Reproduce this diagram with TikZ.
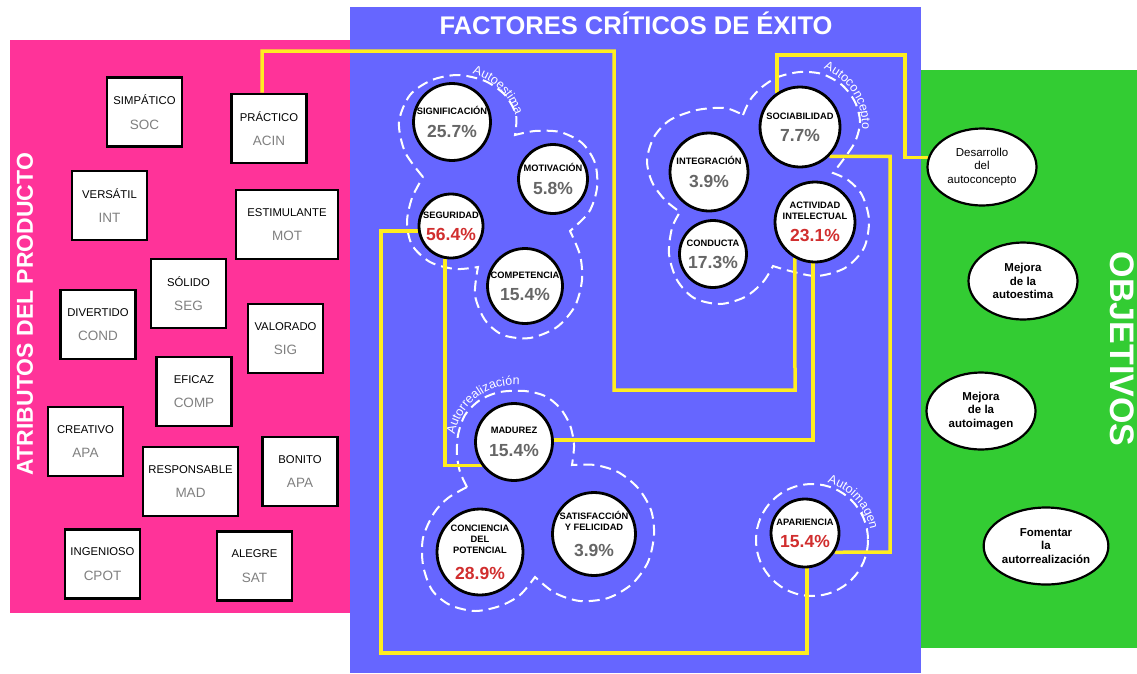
\documentclass[tikz,border=0pt]{standalone}
\usepackage{fontspec}
\setmainfont{Liberation Sans}
\usetikzlibrary{shapes.geometric,decorations.text}
\definecolor{ffttzz}{rgb}{1,0.2,0.6}
\definecolor{wwwwff}{rgb}{0.4,0.4,1}
\definecolor{ttcctt}{rgb}{0.2,0.8,0.2}
\definecolor{ffee22}{rgb}{1,0.93,0.13}
\definecolor{rojo}{rgb}{0.82,0.18,0.18}
\definecolor{grisfct}{rgb}{0.4,0.4,0.4}
\definecolor{grisattr}{rgb}{0.5,0.5,0.5}
\pgfdeclarelayer{panel}
\pgfdeclarelayer{cloud}
\pgfdeclarelayer{wire}
\pgfsetlayers{panel,cloud,wire,main}
\newcommand{\attrtxt}[2]{#1\\[12pt]{\fontsize{13.5}{13.5}\selectfont\color{grisattr}#2}}
\newcommand{\fcttxt}[3][grisfct]{#2\\[9pt]{\fontsize{17.5}{17.5}\selectfont\color{#1}#3}}
\newcommand{\cloudfont}{\fontsize{12.5}{12.5}\selectfont}

\begin{document}
\begin{tikzpicture}[x=1pt,y=-1pt,
  attr/.style={draw=black,line width=2.8pt,fill=white,minimum width=75pt,minimum height=69pt,align=center,inner sep=1pt,font=\fontsize{11.3}{12.5}\selectfont},
  factor/.style={circle,draw=black,line width=2.8pt,fill=white,minimum size=#1,align=center,inner sep=0pt,font=\fontsize{9.3}{11}\selectfont\bfseries},
  goal/.style={ellipse,draw=black,line width=2.2pt,fill=white,minimum width=109pt,minimum height=77pt,align=center,inner sep=0pt,font=\fontsize{11.5}{13.3}\selectfont},
  goalb/.style={goal,font=\fontsize{11.5}{13.3}\selectfont\bfseries},
  cloud/.style={white,line width=2pt,dash pattern=on 11pt off 6pt},
  cloudtext/.style={x=1pt,y=1pt,decorate,decoration={text along path,text color=white,text align=center,text={|\cloudfont|#1}}},
  wire/.style={ffee22,line width=3.5pt}]
\useasboundingbox (0,0) rectangle (1137,673);
\begin{pgfonlayer}{panel}
\fill[white] (0,0) rectangle (1137,673);
\fill[ffttzz] (10,40) rectangle (350,613);
\fill[wwwwff] (350,7) rectangle (921,673);
\fill[ttcctt] (921,70) rectangle (1137,648);
\end{pgfonlayer}

\node[white,font=\fontsize{25.5}{26}\selectfont\bfseries] (factores) at (636,23) {FACTORES CRÍTICOS DE ÉXITO};
\node[white,rotate=90,font=\fontsize{23}{23}\selectfont\bfseries] (atributos) at (25,314) {ATRIBUTOS DEL PRODUCTO};
\node[white,rotate=-90,font=\fontsize{34}{34}\selectfont\bfseries] (objetivos) at (1122,349) {OBJETIVOS};

\node[attr] (simpatico) at (144.5,112) {\attrtxt{SIMPÁTICO}{SOC}};
\node[attr] (practico) at (269,128.5) {\attrtxt{PRÁCTICO}{ACIN}};
\node[attr] (versatil) at (109.5,205.5) {\attrtxt{VERSÁTIL}{INT}};
\node[attr,minimum width=102pt] (estimulante) at (287,224.5) {\attrtxt{ESTIMULANTE}{MOT}};
\node[attr] (solido) at (188.5,293.5) {\attrtxt{SÓLIDO}{SEG}};
\node[attr] (divertido) at (98,324.5) {\attrtxt{DIVERTIDO}{COND}};
\node[attr] (valorado) at (285.5,338.5) {\attrtxt{VALORADO}{SIG}};
\node[attr] (eficaz) at (194,391.5) {\attrtxt{EFICAZ}{COMP}};
\node[attr] (creativo) at (85.5,441.5) {\attrtxt{CREATIVO}{APA}};
\node[attr,minimum width=95pt] (responsable) at (190.5,481.5) {\attrtxt{RESPONSABLE}{MAD}};
\node[attr] (bonito) at (300,471.5) {\attrtxt{BONITO}{APA}};
\node[attr] (ingenioso) at (102.5,564) {\attrtxt{INGENIOSO}{CPOT}};
\node[attr] (alegre) at (254.5,566) {\attrtxt{ALEGRE}{SAT}};

\node[factor=77pt] (signif) at (452,122) {\fcttxt{SIGNIFICACIÓN}{25.7\%}};
\node[factor=69pt] (motiv) at (553,179) {\fcttxt{MOTIVACIÓN}{5.8\%}};
\node[factor=64pt] (segur) at (451,226) {\fcttxt[rojo]{SEGURIDAD}{56.4\%}};
\node[factor=75pt] (compet) at (525,286) {\fcttxt{COMPETENCIA}{15.4\%}};
\node[factor=80pt] (sociab) at (800,127) {\fcttxt{SOCIABILIDAD}{7.7\%}};
\node[factor=78pt] (integr) at (709,172) {\fcttxt{INTEGRACIÓN}{3.9\%}};
\node[factor=80pt] (activ) at (815,222) {\fcttxt[rojo]{ACTIVIDAD\\INTELECTUAL}{23.1\%}};
\node[factor=67pt] (conduc) at (713,254) {\fcttxt{CONDUCTA}{17.3\%}};
\node[factor=77pt] (madurez) at (514,442) {\fcttxt{MADUREZ}{15.4\%}};
\node[factor=86pt] (concien) at (480,552) {CONCIENCIA\\DEL\\POTENCIAL\\[13pt]{\fontsize{17.5}{17.5}\selectfont\color{rojo}28.9\%}};
\node[factor=83pt] (satisf) at (594,534) {SATISFACCIÓN\\Y FELICIDAD\\[12pt]{\fontsize{17.5}{17.5}\selectfont\color{grisfct}3.9\%}};
\node[factor=68pt] (aparien) at (805,533) {\fcttxt[rojo]{APARIENCIA}{15.4\%}};

\node[goal] (desarrollo) at (982,167) {Desarrollo\\del\\autoconcepto};
\node[goalb] (autoestima) at (1023,281) {Mejora\\de la\\autoestima};
\node[goalb] (autoimagen) at (981,411) {Mejora\\de la\\autoimagen};
\node[goalb] (autorreal) at (1046,546) {Fomentar\\la\\autorrealización};

\begin{pgfonlayer}{cloud}
\draw[cloud] plot[smooth] coordinates {(423,177) (405,152) (399,122) (410,95) (432,80) (458,75) (485,81) (505,95) (516,115) (515,135)}
  -- plot[smooth] coordinates {(515,135) (535,131) (560,132) (582,143) (595,163) (597,188) (589,212) (570,231)}
  -- plot[smooth] coordinates {(570,231) (580,255) (582,280) (575,306) (557,327) (530,338) (503,335) (485,320) (475,295) (478,267)}
  -- plot[smooth] coordinates {(478,267) (455,269) (430,262) (412,245) (407,222) (412,198) (423,177)} -- cycle;
\draw[cloud] plot[smooth] coordinates {(743,115) (750,100) (762,87) (778,77) (800,72) (822,74) (842,85) (855,102) (860,122) (855,142) (843,160) (833,173)}
  -- plot[smooth] coordinates {(833,173) (848,180) (862,195) (869,220) (864,248) (845,268) (817,276) (790,271) (773,266)}
  -- plot[smooth] coordinates {(773,266) (763,282) (745,297) (720,304) (694,298) (677,280) (669,254) (672,228) (680,212)}
  -- plot[smooth] coordinates {(680,212) (665,200) (652,182) (647,160) (654,137) (670,120) (697,110) (725,108) (743,115)} -- cycle;
\draw[cloud] plot[smooth] coordinates {(467,487) (460,472) (457,455) (458,435) (465,415) (480,400) (500,392) (525,391) (545,396) (560,408) (570,425) (574,445) (572,465)}
  -- plot[smooth] coordinates {(572,465) (595,465) (618,472) (638,488) (651,510) (654,535) (648,562) (632,584) (608,598) (580,601) (555,593) (535,577)}
  -- plot[smooth] coordinates {(535,577) (520,595) (500,606) (475,611) (450,605) (432,590) (423,565) (423,538) (434,513) (448,498) (467,487)} -- cycle;
\draw[cloud] (812,540) circle (56);
\begin{scope}[transform canvas={shift={(457,133)}}]
\path[cloudtext=Autoestima] (92:61) arc[start angle=92,end angle=0,radius=61];
\end{scope}
\begin{scope}[transform canvas={shift={(802,125)}}]
\path[cloudtext=Autoconcepto] (85:60) arc[start angle=85,end angle=-20,radius=60];
\end{scope}
\begin{scope}[transform canvas={shift={(514,445)}}]
\path[cloudtext=Autorrealización] (185:60) arc[start angle=185,end angle=70,radius=60];
\end{scope}
\begin{scope}[transform canvas={shift={(812,540)}}]
\path[cloudtext=Autoimagen] (88:59) arc[start angle=88,end angle=-3,radius=59];
\end{scope}
\end{pgfonlayer}

\begin{pgfonlayer}{wire}
\draw[wire] ([xshift=-7pt]practico.north) |- (614,51) |- (795,390) -- (activ.-119);
\draw[wire] (sociab.124) |- (905,55) |- (desarrollo.170);
\draw[wire] (sociab.-45) -| (890,552) -- (aparien.-33);
\draw[wire] (activ.-93) |- (madurez.3);
\draw[wire] (segur.189) -| (381,653) -| (aparien.-87);
\draw[wire] (segur.-100) |- (madurez.-144);
\end{pgfonlayer}
\end{tikzpicture}
\end{document}
